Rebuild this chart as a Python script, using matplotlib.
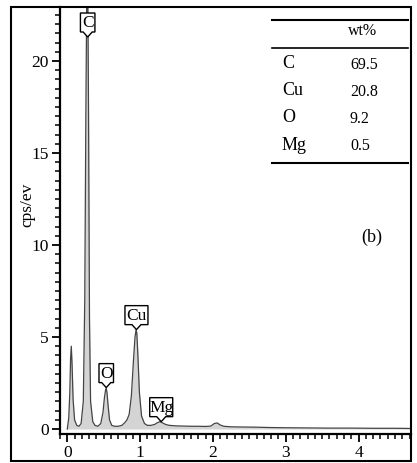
#EDS spectrum (b)

import matplotlib
matplotlib.use("Agg")
from matplotlib import pyplot as plt
from matplotlib import transforms
from matplotlib.patches import Polygon, Rectangle
from matplotlib.lines import Line2D
from matplotlib.ticker import MultipleLocator

plt.rcParams['font.family'] = ['Liberation Serif', 'DejaVu Serif']

# spectrum (keV, cps/eV)
energy = [0.0, 0.02, 0.035, 0.045, 0.055, 0.065, 0.08, 0.10, 0.13, 0.16, 0.19, 0.22,
          0.24, 0.255, 0.268, 0.28, 0.292, 0.305, 0.32, 0.35, 0.38, 0.42, 0.46, 0.49,
          0.51, 0.525, 0.535, 0.545, 0.56, 0.58, 0.61, 0.65, 0.70, 0.75, 0.79, 0.82,
          0.85, 0.88, 0.91, 0.93, 0.945, 0.955, 0.97, 0.99, 1.02, 1.06, 1.10, 1.15,
          1.20, 1.24, 1.27, 1.30, 1.35, 1.40, 1.50, 1.60, 1.70, 1.80, 1.90, 1.97,
          2.02, 2.06, 2.10, 2.15, 2.25, 2.40, 2.60, 2.80, 3.0, 3.3, 3.6, 3.9, 4.2,
          4.5, 4.72]
counts = [0.0, 0.6, 2.0, 3.8, 4.5, 3.6, 1.6, 0.5, 0.2, 0.15, 0.3, 1.5,
          7.0, 17.0, 24.0, 25.0, 17.0, 6.0, 1.5, 0.4, 0.2, 0.15, 0.3, 0.9,
          1.7, 2.1, 2.2, 2.0, 1.3, 0.5, 0.2, 0.15, 0.15, 0.2, 0.35, 0.5,
          0.8, 1.8, 3.8, 5.0, 5.4, 5.2, 4.0, 2.0, 0.7, 0.3, 0.2, 0.2,
          0.25, 0.35, 0.4, 0.35, 0.25, 0.2, 0.17, 0.16, 0.15, 0.15, 0.14, 0.16,
          0.3, 0.33, 0.22, 0.15, 0.12, 0.11, 0.1, 0.08, 0.07, 0.06, 0.05, 0.05, 0.04,
          0.04, 0.03]

# peak labels: element, energy, label tip height
peak_names = ['C', 'O', 'Cu', 'Mg']
peak_x = [0.28, 0.535, 0.95, 1.29]
peak_y = [21.3, 2.25, 5.4, 0.4]

# composition table
elements = ['C', 'Cu', 'O', 'Mg']
wt_pct = ['69.5', '20.8', '9.2', '0.5']

W, H = 417, 463
fig = plt.figure(figsize=(W / 100, H / 100), dpi=100)
ax = fig.add_axes([60 / W, (H - 434) / H, (411 - 60) / W, (434 - 7) / H])

ax.fill_between(energy, counts, 0, color='#d4d4d4', lw=0)
ax.plot(energy, counts, color='#444444', lw=0.9)

ax.set_xlim(-0.1, 4.72)
ax.set_ylim(-0.27, 22.93)
ax.xaxis.set_major_locator(MultipleLocator(1))
ax.xaxis.set_minor_locator(MultipleLocator(0.1))
ax.yaxis.set_major_locator(MultipleLocator(5))
ax.yaxis.set_minor_locator(MultipleLocator(0.5))
ax.tick_params(which='major', direction='out', length=6, width=1.3, labelsize=12.5, pad=2)
ax.tick_params(which='minor', direction='out', length=3.5, width=1.1)
for s in ['top', 'right']:
    ax.spines[s].set_visible(False)
for s in ['left', 'bottom']:
    ax.spines[s].set_linewidth(1.6)

# pointed label boxes
for name, px, py in zip(peak_names, peak_x, peak_y):
    w = (6 + 8.5 * len(name)) / 100
    h = 0.19
    n = 0.05
    verts = [(0, 0), (-0.045, n), (-w / 2, n), (-w / 2, n + h), (w / 2, n + h),
             (w / 2, n), (0.045, n)]
    tr = fig.dpi_scale_trans + transforms.ScaledTranslation(px, py, ax.transData)
    ax.add_patch(Polygon(verts, closed=True, transform=tr, fc='white', ec='black',
                         lw=1.0, clip_on=False, zorder=5))
    ax.text(0, n + h / 2 - 0.005, name, transform=tr, fontsize=12.5,
            ha='center', va='center', zorder=6)

# outer frame
fig.add_artist(Rectangle((11 / W, 2 / H), 400 / W, (461 - 7) / H, transform=fig.transFigure,
                         fill=False, ec='black', lw=1.5))

fig.text(27 / W, 1 - 205 / H, 'cps/ev', rotation=90, ha='center', va='center', fontsize=12.5)

# table
for yy, lw in [(20, 1.5), (48, 1.2), (163, 1.5)]:
    fig.add_artist(Line2D([272 / W, 408 / W], [1 - yy / H, 1 - yy / H], color='black', lw=lw))
fig.text(363 / W, 1 - 31 / H, 'wt%', ha='center', va='center', fontsize=11.5)
for i, (el, v) in enumerate(zip(elements, wt_pct)):
    yy = 64 + i * 27
    fig.text(282 / W, 1 - yy / H, el, ha='left', va='center', fontsize=13)
    fig.text(350 / W, 1 - (yy + 1) / H, v, ha='left', va='center', fontsize=11.5)

fig.text(372 / W, 1 - 237 / H, '(b)', ha='center', va='center', fontsize=13)

fig.savefig('out.png', dpi=100)
